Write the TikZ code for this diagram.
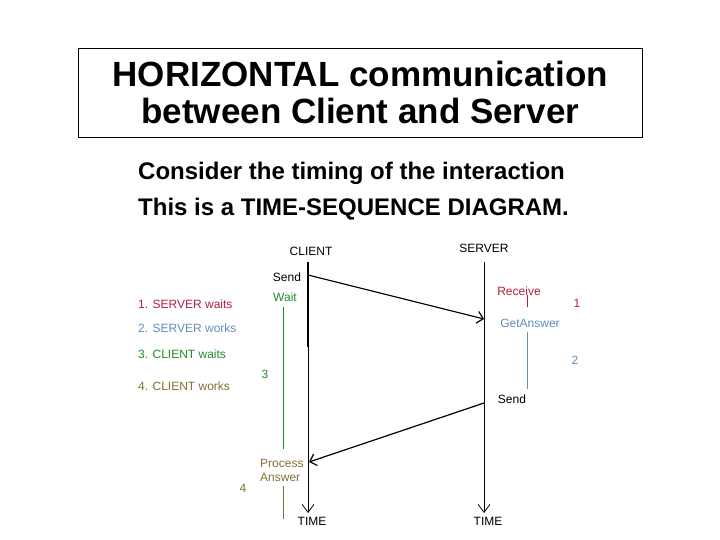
\documentclass[tikz,border=0pt]{standalone}
\usepackage{fontspec}
\setmainfont{Liberation Sans}
\usetikzlibrary{arrows.meta}
\definecolor{cred}{RGB}{180,30,60}
\definecolor{cblue}{RGB}{100,140,190}
\definecolor{cgreen}{RGB}{30,140,40}
\definecolor{colive}{RGB}{130,110,50}
\begin{document}
\begin{tikzpicture}[x=1pt,y=-1pt,
  lbl/.style={inner sep=0pt,font=\fontsize{12}{13}\selectfont},
  leg/.style={inner sep=0pt,anchor=west,font=\fontsize{12}{13}\selectfont},
  msg/.style={line width=1.2pt,-{Straight Barb[length=6pt,width=12pt]}},
  life/.style={line width=0.8pt,-{Straight Barb[length=8pt,width=12pt]}}]
\useasboundingbox (0,0) rectangle (720,540);
\node[draw,minimum width=564,minimum height=89,anchor=north west,inner sep=0pt,line width=0.6pt,align=center,font=\bfseries\fontsize{35}{37}\selectfont] (title) at (78,48) {HORIZONTAL communication\\between Client and Server};
\node[anchor=west,inner sep=0pt,font=\bfseries\fontsize{24}{28}\selectfont] (s1) at (138,173) {Consider the timing of the interaction};
\node[anchor=west,inner sep=0pt,font=\bfseries\fontsize{24}{28}\selectfont] (s2) at (138,209) {This is a TIME-SEQUENCE DIAGRAM.};
\node[lbl] (client) at (311,251) {CLIENT};
\node[lbl] (server) at (484,248) {SERVER};
\coordinate (ct) at (308,262); \coordinate (cb) at (308,513);
\coordinate (ck) at (308,347);
\coordinate (st) at (484,262); \coordinate (sb) at (484,513);
\draw[life] (ct) -- (cb);
\draw[line width=2pt] (ct) -- (ck);
\draw[life] (st) -- (sb);
\coordinate (a1) at (308,275); \coordinate (a2) at (484,319);
\coordinate (b1) at (484,403); \coordinate (b2) at (309,462);
\draw[msg] (a1) -- (a2);
\draw[msg] (b1) -- (b2);
\node[lbl] (send1) at (287,277) {Send};
\node[lbl,text=cgreen] (wait) at (285,297) {Wait};
\node[lbl,text=cred] (recv) at (519,291) {Receive};
\node[lbl,text=cred] (n1) at (577,303) {1};
\node[lbl,text=cblue] (get) at (530,323) {GetAnswer};
\node[lbl,text=cblue] (n2) at (575,360) {2};
\node[lbl] (send2) at (512,399) {Send};
\node[lbl,text=cgreen] (n3) at (265,374) {3};
\node[lbl,text=colive,align=left,anchor=west,font=\fontsize{12}{14}\selectfont] (proc) at (260,470) {Process\\Answer};
\node[lbl,text=colive] (n4) at (243,488) {4};
\node[lbl] (time1) at (312,521) {TIME};
\node[lbl] (time2) at (488,521) {TIME};
\draw[cred,line width=0.6pt] (527,295) -- (527,307);
\draw[cblue,line width=0.6pt] (527,332) -- (527,389);
\draw[cgreen,line width=0.6pt] (283,307) -- (283,449);
\draw[colive,line width=0.6pt] (283,486) -- (283,519);
\node[leg,text=cred] (l1) at (138,304) {1. SERVER waits};
\node[leg,text=cblue] (l2) at (138,328) {2. SERVER works};
\node[leg,text=cgreen] (l3) at (138,354) {3. CLIENT waits};
\node[leg,text=colive] (l4) at (138,386) {4. CLIENT works};
\end{tikzpicture}
\end{document}
